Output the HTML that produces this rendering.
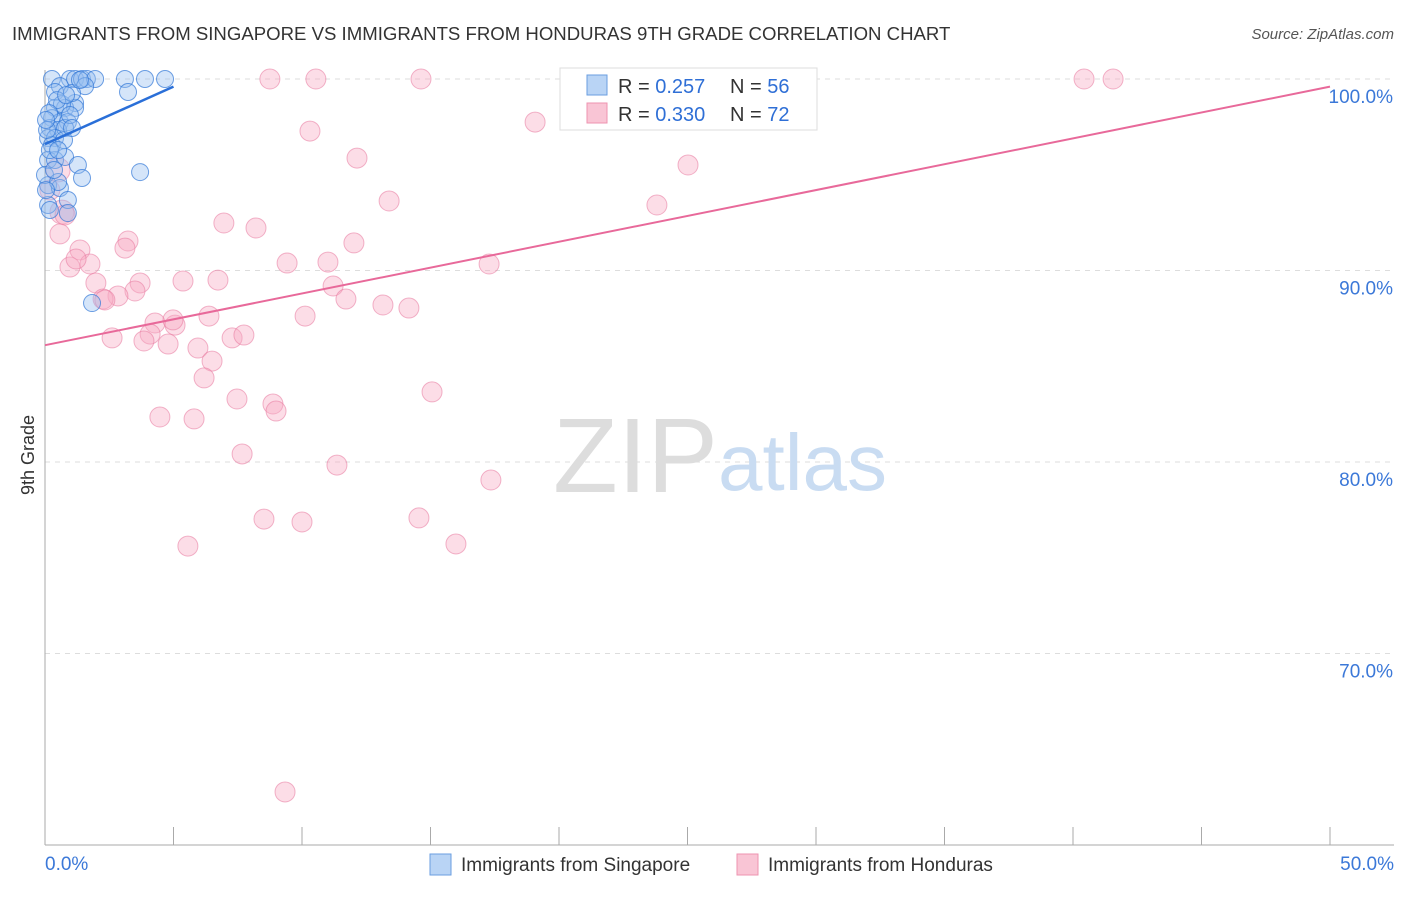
<!DOCTYPE html>
<html><head><meta charset="utf-8"><style>
body{margin:0;background:#fff;font-family:"Liberation Sans",sans-serif;}
svg text{font-family:"Liberation Sans",sans-serif;}
</style></head><body>
<svg id="chart" width="1406" height="892" xmlns="http://www.w3.org/2000/svg">
<text x="12" y="40" font-size="18.6" fill="#333">IMMIGRANTS FROM SINGAPORE VS IMMIGRANTS FROM HONDURAS 9TH GRADE CORRELATION CHART</text>
<text x="1394" y="39" font-size="15" fill="#555" font-style="italic" text-anchor="end">Source: ZipAtlas.com</text>
<g id="grid"></g>
<text x="553" y="492" font-size="106" fill="#ddd" font-family="Liberation Serif">ZIP</text>
<text x="718" y="490" font-size="80" fill="#c9dcf2">atlas</text>
<g id="axes"></g>
<g id="pink"></g>
<g id="blue"></g>
<g id="lines"></g>
<text transform="translate(34,455) rotate(-90)" font-size="18" fill="#333" text-anchor="middle">9th Grade</text>
<g>
<rect x="560" y="68" width="257" height="62" fill="#fff" stroke="#ddd"/>
<rect x="587" y="75" width="20" height="20" fill="#b9d4f5" stroke="#6a9ee0"/>
<rect x="587" y="103" width="20" height="20" fill="#f9c5d5" stroke="#ee93b0"/>
<text x="618" y="93" font-size="20" fill="#333">R = <tspan fill="#2f6fd6">0.257</tspan></text>
<text x="730" y="93" font-size="20" fill="#333">N = <tspan fill="#2f6fd6">56</tspan></text>
<text x="618" y="121" font-size="20" fill="#333">R = <tspan fill="#2f6fd6">0.330</tspan></text>
<text x="730" y="121" font-size="20" fill="#333">N = <tspan fill="#2f6fd6">72</tspan></text>
</g>
<g>
<rect x="430" y="854" width="21" height="21" fill="#b9d4f5" stroke="#6a9ee0"/>
<text x="461" y="871" font-size="19" fill="#333">Immigrants from Singapore</text>
<rect x="737" y="854" width="21" height="21" fill="#f9c5d5" stroke="#ee93b0"/>
<text x="768" y="871" font-size="19" fill="#333">Immigrants from Honduras</text>
</g>
</svg>
<script>
const yTicks=[100,90,80,70];
const xTickLabels=["0.0%","50.0%"];
const bluePx=[[52,79],[70,79],[75,79],[82,79],[87,79],[95,79],[125,79],[145,79],[165,79],[128,92],[60,86],[85,86],[55,92],[75,103],[55,108],[65,108],[75,108],[52,118],[60,122],[68,122],[50,128],[58,130],[65,128],[48,138],[55,138],[52,145],[48,160],[55,160],[65,157],[78,165],[82,178],[48,185],[60,188],[68,200],[68,213],[48,205],[140,172],[92,303],[62,104],[70,115],[50,150],[45,175],[58,182],[50,210],[72,93],[80,80],[47,130],[57,100],[64,140],[49,113],[72,128],[54,170],[46,120],[66,95],[58,150],[46,190]];
const pinkPx=[[270,79],[316,79],[421,79],[1084,79],[1113,79],[770,79],[675,79],[748,79],[535,122],[310,131],[357,158],[688,165],[389,201],[657,205],[224,223],[256,228],[128,241],[354,243],[125,248],[80,250],[60,234],[70,267],[90,264],[76,259],[287,263],[328,262],[489,264],[183,281],[218,280],[140,283],[96,283],[135,291],[118,296],[103,299],[333,286],[346,299],[383,305],[409,308],[209,316],[305,316],[155,323],[175,325],[173,320],[112,338],[150,334],[144,341],[168,344],[198,348],[232,338],[244,335],[212,361],[204,378],[237,399],[273,404],[276,411],[432,392],[160,417],[194,419],[242,454],[337,465],[491,480],[264,519],[302,522],[419,518],[188,546],[456,544],[285,792],[62,212],[58,170],[50,190],[65,215],[105,300]];
const blueX=bluePx.map(p=>+((p[0]-45)/25.7).toFixed(2));
const blueY=bluePx.map(p=>+(100-(p[1]-79)/19.15).toFixed(2));
const pinkX=pinkPx.map(p=>+((p[0]-45)/25.7).toFixed(2));
const pinkY=pinkPx.map(p=>+(100-(p[1]-79)/19.15).toFixed(2));
const blueTrend=[[0,96.6],[5,99.6]];
const pinkTrend=[[0,86.1],[50,99.6]];
const sx=v=>45+v*25.7, sy=v=>79+(100-v)*19.15;
const NS="http://www.w3.org/2000/svg";
function mk(parent,tag,attrs){const e=document.createElementNS(NS,tag);for(const k in attrs)e.setAttribute(k,attrs[k]);document.getElementById(parent).appendChild(e);return e;}
yTicks.forEach(t=>{
 const l=mk('grid','line',{x1:45,x2:1394,y1:sy(t),y2:sy(t),stroke:'#ddd','stroke-dasharray':'5,5'});
 
 
 const tx=mk('grid','text',{x:1393,y:sy(t)+24,'font-size':19,fill:'#3b78d8','text-anchor':'end'});
 tx.textContent=t.toFixed(1)+'%';
 
 
});
mk('axes','line',{x1:45,x2:45,y1:70,y2:845,stroke:'#aaa'});
mk('axes','line',{x1:45,x2:1394,y1:845,y2:845,stroke:'#aaa'});
for(let i=0;i<=10;i++){const x=sx(i*5);mk('axes','line',{x1:x,x2:x,y1:827,y2:845,stroke:'#aaa'});}
const xl=mk('axes','text',{x:45,y:870,'font-size':19,fill:'#3b78d8'});xl.textContent=xTickLabels[0];


const xr=mk('axes','text',{x:1394,y:870,'font-size':19,fill:'#3b78d8','text-anchor':'end'});xr.textContent=xTickLabels[1];


pinkX.forEach((x,i)=>{const c=mk('pink','circle',{cx:sx(x),cy:sy(pinkY[i]),r:(i>=67&&i<=68)?12:10,fill:'rgba(247,170,196,0.4)',stroke:'rgba(232,120,158,0.55)','stroke-width':1});
 
 });
blueX.forEach((x,i)=>{const c=mk('blue','circle',{cx:sx(x),cy:sy(blueY[i]),r:8.5,fill:'rgba(150,190,240,0.4)',stroke:'rgba(50,120,215,0.7)','stroke-width':1});
 
 });
const pl=mk('lines','line',{x1:sx(pinkTrend[0][0]),y1:sy(pinkTrend[0][1]),x2:sx(pinkTrend[1][0]),y2:sy(pinkTrend[1][1]),stroke:'#e8699a','stroke-width':2});


const bl=mk('lines','line',{x1:sx(blueTrend[0][0]),y1:sy(blueTrend[0][1]),x2:sx(blueTrend[1][0]),y2:sy(blueTrend[1][1]),stroke:'#2a6fd8','stroke-width':2.5});


</script>
</body></html>
